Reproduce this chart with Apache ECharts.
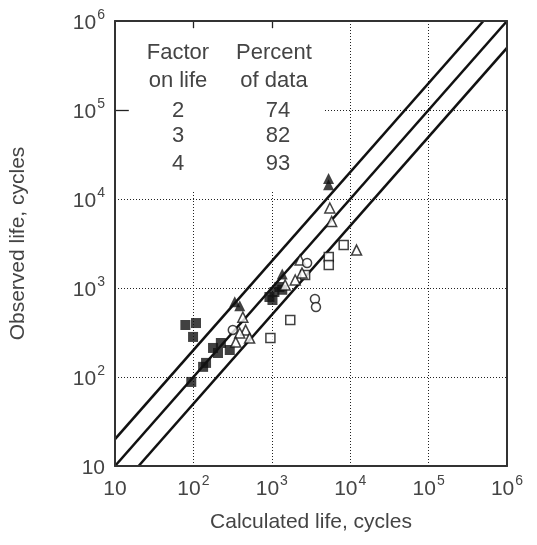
<!DOCTYPE html>
<html>
<head>
<meta charset="utf-8">
<script src="https://cdn.jsdelivr.net/npm/echarts@6/dist/echarts.min.js"></script>
<style>
html,body{margin:0;padding:0;background:#fff;}
#chart{width:537px;height:545px;}
</style>
</head>
<body>
<div id="chart"></div>
<script>
// ---- data (calculated life, observed life) ----
var filledSquares = [[79,384],[108,404],[99,282],[224,241],[178,212],[291,201],[145,144],[206,186],[133,130],[94,88],[1080,902],[933,792],[1020,733],[1360,955],[1250,1026]];
var filledTriangles = [[5300,17000],[5300,14500],[390,630],[337,700],[1360,1440]];
var openSquares = [[8260,3040],[5330,2230],[5330,1810],[2660,1400],[960,274],[1720,437]];
var openTriangles = [[12050,2670],[5500,7920],[2430,1475],[1990,1230],[464,337],[390,312],[521,274],[347,247],[427,470],[2300,2070],[1480,1080],[5800,5600]];
var openCircles = [[3550,752],[3660,612],[318,338],[2820,1910]];
// factor-of-2 band and 1:1 line
var upperLine = [[10,20],[500000,1000000]];
var centerLine = [[10,10],[1000000,1000000]];
var lowerLine = [[20,10],[1000000,500000]];
// legend table
var legendHeaders = [['Factor','on life'],['Percent','of data']];
var legendFactors = ['2','3','4'];
var legendPercents = ['74','82','93'];
// axis
var axisMin = 10, axisMax = 1000000;
var xName = 'Calculated life, cycles';
var yName = 'Observed life, cycles';
// legend box extent in data coordinates, and the short inner ticks left inside it
var legendBox = [[10,12600],[4600,1000000]];
var boxTicks = [
  [[100,1000000],[100,830000]],
  [[1000,1000000],[1000,830000]],
  [[10,100000],[15,100000]]
];

var FONT = '"Liberation Sans", Arial, Helvetica, sans-serif';
var TXT = '#444';

function fmt(v){
  var e = Math.round(Math.log10(v));
  if (e === 1) return '{b|10}';
  return '{b|10}{s|' + e + '}';
}
var rich = {
  b:{fontSize:21,fontFamily:FONT,color:TXT,lineHeight:26,verticalAlign:'bottom'},
  s:{fontSize:14,fontFamily:FONT,color:TXT,lineHeight:26,verticalAlign:'top',padding:[0,0,0,1]}
};
var grid = {left:111,right:30,top:21,bottom:79};
var splitStyle = {show:true,lineStyle:{color:'#222',width:1,type:[1,2]}};
var frameLine = {show:true,onZero:false,lineStyle:{color:'#333',width:2}};

var chart = echarts.init(document.getElementById('chart'));

function scatter(name, data, symbol, filled, size){
  return {
    type:'scatter', name:name, data:data, symbol:symbol, symbolSize:size,
    xAxisIndex:0, yAxisIndex:0, z:5,
    itemStyle:{color: filled ? '#111' : '#fff', borderColor:'#111', borderWidth: filled ? 0 : 1.5}
  };
}
function line(data, extra){
  var s = {type:'line', data:data, symbol:'none', xAxisIndex:0, yAxisIndex:0, z:4,
    lineStyle:{color:'#111',width:2.6}, silent:true};
  if (extra) for (var k in extra) s[k] = extra[k];
  return s;
}

var graphics = [];
var colX = [178, 274];
var headY = [53, 81];
var rowY = [111, 136, 164];
legendHeaders.forEach(function(col, ci){
  col.forEach(function(t, ri){
    graphics.push({type:'text', x:colX[ci], y:headY[ri], style:{text:t, fontSize:22, fontFamily:FONT, fill:TXT, align:'center', verticalAlign:'middle'}, z:20});
  });
});
legendFactors.forEach(function(t,i){
  graphics.push({type:'text', x:colX[0], y:rowY[i], style:{text:t, fontSize:22, fontFamily:FONT, fill:TXT, align:'center', verticalAlign:'middle'}, z:20});
});
legendPercents.forEach(function(t,i){
  graphics.push({type:'text', x:colX[1]+4, y:rowY[i], style:{text:t, fontSize:22, fontFamily:FONT, fill:TXT, align:'center', verticalAlign:'middle'}, z:20});
});

var option = {
  animation:false,
  backgroundColor:'#fff',
  grid:grid,
  xAxis:[
    {type:'log', logBase:10, min:axisMin, max:axisMax, position:'bottom', z:0,
     name:xName, nameLocation:'middle', nameGap:46,
     nameTextStyle:{fontSize:21,fontFamily:FONT,color:TXT},
     axisLine:{show:false}, axisTick:{show:false}, splitLine:splitStyle,
     axisLabel:{formatter:fmt, rich:rich, margin:8, showMinLabel:true, showMaxLabel:true}},
    {type:'log', logBase:10, min:axisMin, max:axisMax, position:'top', zlevel:1, z:10,
     axisLine:frameLine, axisTick:{show:false}, axisLabel:{show:false}, splitLine:{show:false}},
    {type:'log', logBase:10, min:axisMin, max:axisMax, position:'bottom', zlevel:1, z:10,
     axisLine:frameLine, axisTick:{show:false}, axisLabel:{show:false}, splitLine:{show:false}}
  ],
  yAxis:[
    {type:'log', logBase:10, min:axisMin, max:axisMax, position:'left', z:0,
     name:yName, nameLocation:'middle', nameGap:86,
     nameTextStyle:{fontSize:21,fontFamily:FONT,color:TXT},
     axisLine:{show:false}, axisTick:{show:false}, splitLine:splitStyle,
     axisLabel:{formatter:fmt, rich:rich, margin:10, showMinLabel:true, showMaxLabel:true}},
    {type:'log', logBase:10, min:axisMin, max:axisMax, position:'left', zlevel:1, z:10,
     axisLine:frameLine, axisTick:{show:false}, axisLabel:{show:false}, splitLine:{show:false}},
    {type:'log', logBase:10, min:axisMin, max:axisMax, position:'right', zlevel:1, z:10,
     axisLine:frameLine, axisTick:{show:false}, axisLabel:{show:false}, splitLine:{show:false}}
  ],
  graphic:graphics,
  series:[
    line(upperLine, {markArea:{silent:true, itemStyle:{color:'#fff', opacity:1, borderWidth:0}, label:{show:false},
       data:[[{coord:legendBox[0]},{coord:legendBox[1]}]]}}),
    line(centerLine, {markLine:{silent:true, symbol:['none','none'], label:{show:false},
       lineStyle:{color:'#222', width:1.3, type:'solid'},
       data:boxTicks.map(function(t){return [{coord:t[0]},{coord:t[1]}];})}}),
    line(lowerLine),
    scatter('filledSquares', filledSquares, 'rect', true, 10),
    scatter('filledTriangles', filledTriangles, 'triangle', true, 11),
    scatter('openSquares', openSquares, 'rect', false, 9),
    scatter('openTriangles', openTriangles, 'triangle', false, 10),
    scatter('openCircles', openCircles, 'circle', false, 9)
  ]
};
chart.setOption(option);
</script>
</body>
</html>
